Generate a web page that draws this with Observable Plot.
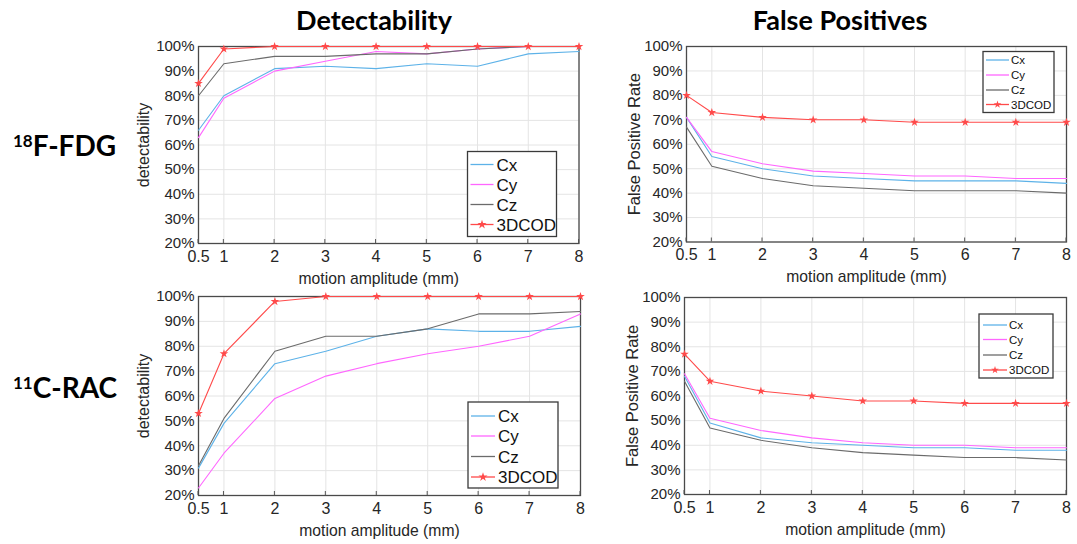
<!DOCTYPE html>
<html><head><meta charset="utf-8">
<script src="https://cdn.jsdelivr.net/npm/d3@7"></script>
<script src="https://cdn.jsdelivr.net/npm/@observablehq/plot@0.6"></script>
<style>
body{margin:0;background:#fff;}
#root{position:relative;width:1077px;height:544px;overflow:hidden;background:#fff;}
.panel{position:absolute;}
#overlay{position:absolute;left:0;top:0;pointer-events:none;}
</style></head><body><div id="root"></div>
<script>
// ---- data ----
const amplitudes = [0.5, 1, 2, 3, 4, 5, 6, 7, 8];
const amplitudeLabels = ["0.5", "1", "2", "3", "4", "5", "6", "7", "8"];
const seriesNames = ["Cx", "Cy", "Cz", "3DCOD"];
const seriesColors = ["#5db2e8", "#ff66ff", "#6b6b6b", "#ff4a4a"];
const percentTicks = [20, 30, 40, 50, 60, 70, 80, 90, 100];
const columnTitles = ["Detectability", "False Positives"];
const rowTracers = [["18", "F-FDG"], ["11", "C-RAC"]];
const yLabels = ["detectability", "False Positive Rate"];
const xLabel = "motion amplitude (mm)";

// 18F-FDG detectability (%)
const fdgDetCx    = [66, 80, 91, 92, 91, 93, 92, 97, 98];
const fdgDetCy    = [63, 79, 90, 94, 98, 97, 99, 100, 100];
const fdgDetCz    = [80, 93, 96, 96, 97, 97, 99, 100, 100];
const fdgDet3DCOD = [85, 99, 100, 100, 100, 100, 100, 100, 100];
// 18F-FDG false positive rate (%)
const fdgFpCx    = [71, 55, 50, 47, 46, 45, 45, 45, 44];
const fdgFpCy    = [71, 57, 52, 49, 48, 47, 47, 46, 46];
const fdgFpCz    = [67, 51, 46, 43, 42, 41, 41, 41, 40];
const fdgFp3DCOD = [80, 73, 71, 70, 70, 69, 69, 69, 69];
// 11C-RAC detectability (%)
const racDetCx    = [31, 49, 73, 78, 84, 87, 86, 86, 88];
const racDetCy    = [23, 37, 59, 68, 73, 77, 80, 84, 93];
const racDetCz    = [32, 51, 78, 84, 84, 87, 93, 93, 94];
const racDet3DCOD = [53, 77, 98, 100, 100, 100, 100, 100, 100];
// 11C-RAC false positive rate (%)
const racFpCx    = [68, 49, 43, 41, 40, 39, 39, 38, 38];
const racFpCy    = [69, 51, 46, 43, 41, 40, 40, 39, 39];
const racFpCz    = [66, 47, 42, 39, 37, 36, 35, 35, 34];
const racFp3DCOD = [77, 66, 62, 60, 58, 58, 57, 57, 57];

// ---- layout ----
const ML = 72, MR = 10, MT = 8, MB = 46;
const panels = [
  {x0: 197.5, x1: 578, y0: 45.5, y1: 242.5, ylabel: yLabels[0], ylo: 55, yfs: 16,
   series: [fdgDetCx, fdgDetCy, fdgDetCz, fdgDet3DCOD],
   leg: {x0: 467, x1: 556, y0: 151, y1: 236, rows: [164, 184, 204, 224], lx0: 470, lx1: 493, tx: 496, fs: 17}},
  {x0: 686, x1: 1066, y0: 45.5, y1: 241, ylabel: yLabels[1], ylo: 52, yfs: 16.5,
   series: [fdgFpCx, fdgFpCy, fdgFpCz, fdgFp3DCOD],
   leg: {x0: 983, x1: 1054, y0: 51, y1: 112, rows: [59.5, 74.5, 89.5, 104], lx0: 986, lx1: 1009, tx: 1011, fs: 11.5}},
  {x0: 198, x1: 580, y0: 296, y1: 495, ylabel: yLabels[0], ylo: 55, yfs: 16,
   series: [racDetCx, racDetCy, racDetCz, racDet3DCOD],
   leg: {x0: 468, x1: 558, y0: 402, y1: 488, rows: [416, 436, 456.5, 477], lx0: 471, lx1: 495, tx: 498, fs: 17}},
  {x0: 684, x1: 1066, y0: 297, y1: 494, ylabel: yLabels[1], ylo: 52, yfs: 16.5,
   series: [racFpCx, racFpCy, racFpCz, racFp3DCOD],
   leg: {x0: 979, x1: 1053, y0: 314, y1: 378, rows: [325, 339.5, 355, 370], lx0: 983, lx1: 1007, tx: 1009, fs: 11.5}}
];

const root = document.getElementById("root");
const FONT = "'Liberation Sans', Arial, Helvetica, sans-serif";

panels.forEach(p => {
  const left = p.x0 - ML, top = p.y0 - MT;
  const width = (p.x1 - p.x0) + ML + MR, height = (p.y1 - p.y0) + MT + MB;
  const rows = [];
  p.series.forEach((vals, si) => vals.forEach((v, i) => rows.push({amp: amplitudes[i], value: v, series: seriesNames[si]})));
  const chart = Plot.plot({
    width, height, marginLeft: ML, marginRight: MR, marginTop: MT, marginBottom: MB,
    style: {fontFamily: FONT, fontSize: "15px", color: "#262626", background: "transparent", overflow: "visible"},
    x: {type: "linear", domain: [0.5, 8]},
    y: {type: "linear", domain: [20, 100]},
    color: {domain: seriesNames, range: seriesColors},
    marks: [
      Plot.gridX(amplitudes, {stroke: "#e4e4e4", strokeOpacity: 1}),
      Plot.gridY(percentTicks, {stroke: "#e4e4e4", strokeOpacity: 1}),
      Plot.axisX(amplitudes, {tickSize: 0, tickPadding: 7, fontSize: 16,
        tickFormat: d => amplitudeLabels[amplitudes.indexOf(d)], label: null}),
      Plot.axisY(percentTicks, {tickSize: 0, tickPadding: 4, fontSize: 15,
        tickFormat: d => d + "%", label: null}),
      Plot.text([xLabel], {frameAnchor: "bottom", text: d => d, textAnchor: "middle", lineAnchor: "middle",
        dy: 35, dx: -10, fontSize: 15.7, fill: "#262626"}),
      Plot.text([p.ylabel], {frameAnchor: "left", text: d => d, textAnchor: "middle", lineAnchor: "middle",
        rotate: -90, dx: -p.ylo, fontSize: p.yfs, fill: "#262626"}),
      Plot.frame({stroke: "#4a4a4a", strokeWidth: 1.3}),
      Plot.line(rows, {x: "amp", y: "value", z: "series", stroke: "series", strokeWidth: 1.1}),
      Plot.dot(rows.filter(d => d.series === "3DCOD"), {x: "amp", y: "value", symbol: "star", fill: "series", r: 2.7})
    ]
  });
  chart.classList.add("panel");
  chart.style.left = left + "px";
  chart.style.top = top + "px";
  root.appendChild(chart);

  // small inward x ticks on the bottom edge, placed with the plot's own x scale
  const xs = chart.scale("x");
  const svg = d3.select(chart);
  const tg = svg.append("g");
  amplitudes.forEach(a => {
    const px = xs.apply(a);
    tg.append("line").attr("x1", px).attr("x2", px).attr("y1", height - MB).attr("y2", height - MB - 4)
      .attr("stroke", "#555").attr("stroke-width", 1);
  });

  // legend box drawn inside the plot's svg
  const g = svg.append("g").attr("transform", `translate(${-left},${-top})`).attr("text-anchor", "start");
  const L = p.leg;
  g.append("rect").attr("x", L.x0).attr("y", L.y0).attr("width", L.x1 - L.x0).attr("height", L.y1 - L.y0)
    .attr("fill", "#fff").attr("stroke", "#3a3a3a").attr("stroke-width", 1.3);
  seriesNames.forEach((name, i) => {
    const y = L.rows[i];
    g.append("line").attr("x1", L.lx0).attr("x2", L.lx1).attr("y1", y).attr("y2", y)
      .attr("stroke", seriesColors[i]).attr("stroke-width", 1.3);
    if (name === "3DCOD") {
      g.append("path").attr("d", d3.symbol(d3.symbolStar, L.fs > 14 ? 26 : 18)())
        .attr("transform", `translate(${(L.lx0 + L.lx1) / 2},${y})`).attr("fill", seriesColors[i]);
    }
    g.append("text").attr("x", L.tx).attr("y", y).attr("dy", "0.36em").attr("text-anchor", "start")
      .attr("font-family", FONT).attr("font-size", L.fs).attr("fill", "#111").text(name);
  });
});

// titles and row labels
const ov = d3.select(root).append("svg").attr("id", "overlay").attr("width", 1077).attr("height", 544);
const titleFont = "Lato, 'Open Sans', sans-serif";
[374, 840].forEach((cx, i) => {
  ov.append("text").attr("x", cx).attr("y", 30).attr("text-anchor", "middle")
    .attr("font-family", titleFont).attr("font-weight", "bold").attr("font-size", 27).attr("fill", "#000")
    .text(columnTitles[i]);
});
[156, 398].forEach((by, i) => {
  const t = ov.append("text").attr("x", 13).attr("y", by)
    .attr("font-family", titleFont).attr("font-weight", "bold").attr("fill", "#000");
  t.append("tspan").attr("font-size", 17).attr("dy", -9).text(rowTracers[i][0]);
  t.append("tspan").attr("font-size", 28).attr("dy", 9).text(rowTracers[i][1]);
});
</script>
</body></html>
